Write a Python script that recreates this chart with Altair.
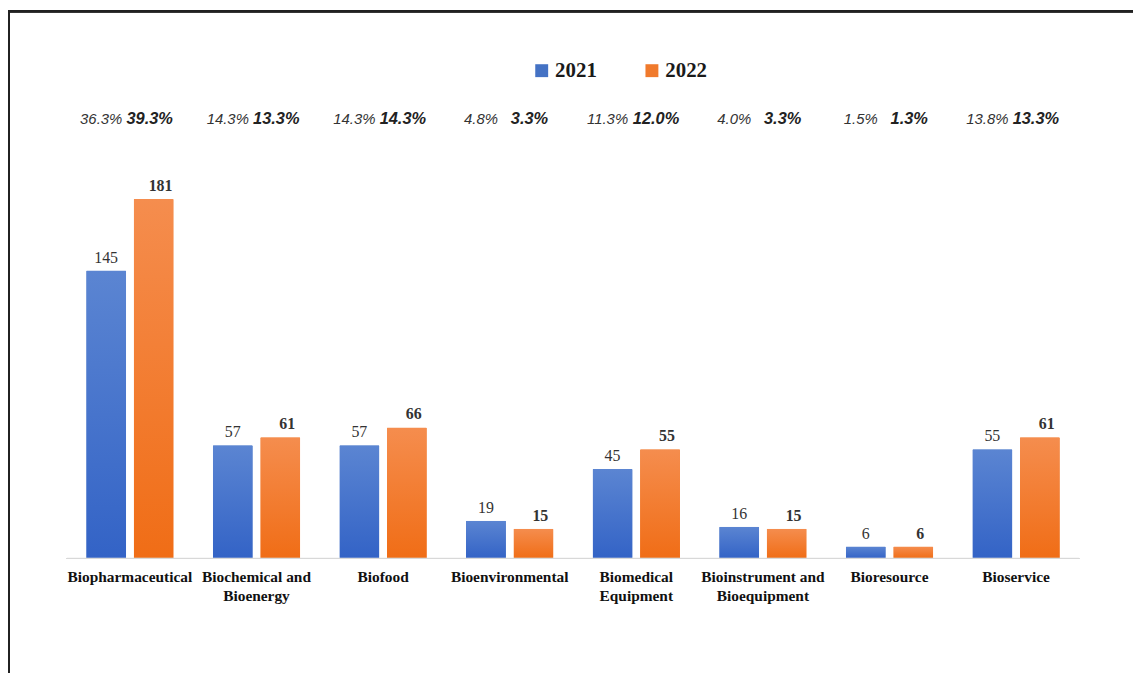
import altair as alt
import pandas as pd

categories = ["Biopharmaceutical", "Biochemical and Bioenergy", "Biofood",
              "Bioenvironmental", "Biomedical Equipment",
              "Bioinstrument and Bioequipment", "Bioresource", "Bioservice"]
label_lines = [["Biopharmaceutical"], ["Biochemical and", "Bioenergy"], ["Biofood"],
               ["Bioenvironmental"], ["Biomedical", "Equipment"],
               ["Bioinstrument and", "Bioequipment"], ["Bioresource"], ["Bioservice"]]
years = ["2021", "2022"]
values_2021 = [145, 57, 57, 19, 45, 16, 6, 55]
values_2022 = [181, 61, 66, 15, 55, 15, 6, 61]
pct_2021 = ["36.3%", "14.3%", "14.3%", "4.8%", "11.3%", "4.0%", "1.5%", "13.8%"]
pct_2022 = ["39.3%", "13.3%", "14.3%", "3.3%", "12.0%", "3.3%", "1.3%", "13.3%"]

rows = []
for i, c in enumerate(categories):
    rows.append({"category": c, "year": "2021", "value": values_2021[i], "pct": pct_2021[i]})
    rows.append({"category": c, "year": "2022", "value": values_2022[i], "pct": pct_2022[i]})
df = pd.DataFrame(rows)
lab_df = pd.DataFrame({"category": categories, "label": ["\n".join(l) for l in label_lines]})

W, H = 1133, 667
xscale = alt.Scale(domain=categories, range=[59, 1079], paddingInner=0.31, paddingOuter=0.155)
yscale = alt.Scale(domain=[0, 200], range=[552, 152], nice=False, zero=True)
oscale = alt.Scale(domain=years, paddingInner=0.16, paddingOuter=0)

X = alt.X("category:N", scale=xscale, axis=None)
XO = alt.XOffset("year:N", scale=oscale)
Y = alt.Y("value:Q", scale=yscale, axis=None)

frame_top = alt.Chart(lab_df).mark_rule(color="#222222", strokeWidth=2).encode(
    x=alt.value(0), x2=alt.value(W), y=alt.value(1))
frame_left = alt.Chart(lab_df).mark_rule(color="#222222", strokeWidth=2).encode(
    x=alt.value(1), y=alt.value(0), y2=alt.value(H))
baseline = alt.Chart(lab_df).mark_rule(color="#d9d9d9", strokeWidth=1).encode(
    x=alt.value(59), x2=alt.value(1079), y=alt.value(552))

base = alt.Chart(df)
bars = base.mark_bar(cornerRadius=1).encode(
    x=X, xOffset=XO, y=Y,
    color=alt.Color("year:N",
                    scale=alt.Scale(domain=years, range=["#4472C4", "#F07A2C"]),
                    legend=alt.Legend(orient="none", legendX=527, legendY=50,
                                      direction="horizontal", title=None,
                                      symbolType="square", symbolSize=169,
                                      symbolStrokeWidth=0, padding=0,
                                      labelFont="Liberation Serif", labelFontWeight="bold",
                                      labelFontSize=21, labelColor="#1a1a1a",
                                      labelOffset=3, columnPadding=45)))


def grad(top, bottom):
    return alt.Gradient(gradient="linear",
                        stops=[alt.GradientStop(color=top, offset=0),
                               alt.GradientStop(color=bottom, offset=1)],
                        x1=0, x2=0, y1=0, y2=1)


g21 = base.transform_filter(alt.datum.year == "2021").mark_bar(
    cornerRadius=1, fill=grad("#5b85d2", "#3363c6")).encode(x=X, xOffset=XO, y=Y)
g22 = base.transform_filter(alt.datum.year == "2022").mark_bar(
    cornerRadius=1, fill=grad("#f58d4e", "#f06d16")).encode(x=X, xOffset=XO, y=Y)

v21 = base.transform_filter(alt.datum.year == "2021").mark_text(
    font="Liberation Serif", fontSize=16, color="#333333", baseline="alphabetic", dy=-8).encode(
    x=X, xOffset=XO, y=Y, text="value:Q")
v22 = base.transform_filter(alt.datum.year == "2022").mark_text(
    font="Liberation Serif", fontSize=16, fontWeight="bold", color="#333333",
    baseline="alphabetic", dy=-8, dx=7).encode(
    x=X, xOffset=XO, y=Y, text="value:Q")

p21 = base.transform_filter(alt.datum.year == "2021").mark_text(
    font="Liberation Sans", fontSize=15, fontStyle="italic", color="#333333",
    baseline="middle", dx=-5).encode(x=X, xOffset=XO, y=alt.value(109), text="pct:N")
p22 = base.transform_filter(alt.datum.year == "2022").mark_text(
    font="Liberation Sans", fontSize=16.5, fontStyle="italic", fontWeight="bold",
    color="#222222", baseline="middle", dx=-4).encode(
    x=X, xOffset=XO, y=alt.value(109), text="pct:N")

xlabels = alt.Chart(lab_df).mark_text(
    font="Liberation Serif", fontSize=15.5, fontWeight="bold", color="#111111",
    baseline="top", lineBreak="\n", lineHeight=19).encode(
    x=X, y=alt.value(564), text="label:N")

chart = alt.layer(bars, g21, g22, v21, v22, p21, p22, xlabels, baseline, frame_top, frame_left).properties(
    width=W, height=H, autosize=alt.AutoSizeParams(type="none"), padding=0, background="white"
).configure_view(stroke=None)

chart.save("out.html", embed_options={"renderer": "svg", "actions": False})
